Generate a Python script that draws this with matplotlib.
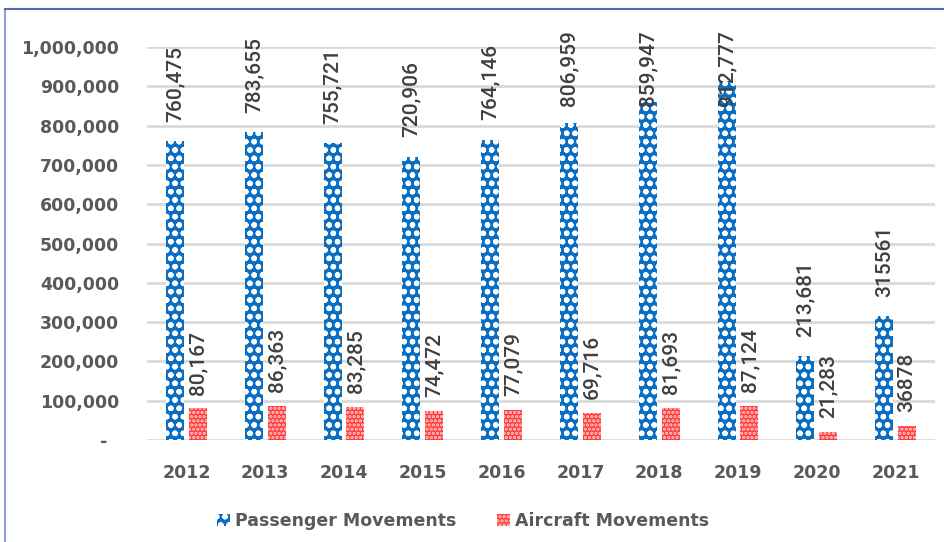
import matplotlib
matplotlib.use("Agg")
import matplotlib.pyplot as plt
from matplotlib.ticker import FuncFormatter
from matplotlib.lines import Line2D
import numpy as np

years = ["2012", "2013", "2014", "2015", "2016", "2017", "2018", "2019", "2020", "2021"]
passenger = [760475, 783655, 755721, 720906, 764146, 806959, 859947, 912777, 213681, 315561]
aircraft = [80167, 86363, 83285, 74472, 77079, 69716, 81693, 87124, 21283, 36878]
passenger_labels = ["760,475", "783,655", "755,721", "720,906", "764,146", "806,959",
                    "859,947", "912,777", "213,681", "315561"]
aircraft_labels = ["80,167", "86,363", "83,285", "74,472", "77,079", "69,716",
                   "81,693", "87,124", "21,283", "36878"]
series_names = ["Passenger Movements", "Aircraft Movements"]

plt.rcParams['hatch.linewidth'] = 1.6

fig = plt.figure(figsize=(9.45, 5.42), dpi=100)
ax = fig.add_axes([147/945, 1-440/542, (935-147)/945, (440-47)/542])

x = np.arange(len(years))
w = 0.23
off = 0.145
b1 = ax.bar(x - off, passenger, w, facecolor='#0A6FC2', edgecolor='white',
            hatch='oo', linewidth=0, zorder=3, label=series_names[0])
b2 = ax.bar(x + off, aircraft, w, facecolor='#FF3B3B', edgecolor='#FFD0D0',
            hatch='....', linewidth=0, zorder=3, label=series_names[1])

ax.set_xlim(-0.5, len(years) - 0.5)
ax.set_ylim(0, 1000000)
ax.set_yticks(np.arange(0, 1000001, 100000))
ax.yaxis.set_major_formatter(FuncFormatter(lambda v, p: "-  " if v == 0 else f"{int(v):,}"))
ax.set_xticks(x)
ax.set_xticklabels(years)
ax.grid(axis='y', color='#D9D9D9', linewidth=2, zorder=0)
ax.set_axisbelow(True)
for s in ax.spines.values():
    s.set_visible(False)
ax.tick_params(axis='both', length=0, colors='#595959', labelsize=12.5)
ax.tick_params(axis='y', pad=20)
ax.tick_params(axis='x', pad=17)
for lab in ax.get_xticklabels() + ax.get_yticklabels():
    lab.set_fontweight('bold')
    lab.set_fontfamily('DejaVu Sans')

texts = []
for xi, v, t in zip(x - off, passenger, passenger_labels):
    texts.append(ax.annotate(t, (xi, v), xytext=(0, 14), textcoords='offset points',
                             rotation=90, ha='center', va='bottom', fontsize=15,
                             family='Roboto', fontweight='medium', color='#404040',
                             annotation_clip=False))
for xi, v, t in zip(x + off, aircraft, aircraft_labels):
    texts.append(ax.annotate(t, (xi, v), xytext=(0, 10), textcoords='offset points',
                             rotation=90, ha='center', va='bottom', fontsize=15,
                             family='Roboto', fontweight='medium', color='#404040',
                             annotation_clip=False))

fig.canvas.draw()
r = fig.canvas.get_renderer()
limit = 542 - 30
for t in texts:
    bb = t.get_window_extent(r)
    if bb.y1 > limit:
        dx, dy = t.xyann
        t.xyann = (dx, dy - (bb.y1 - limit) * 72 / fig.dpi)

leg = fig.legend([b1[0], b2[0]], series_names, loc='center', bbox_to_anchor=(463/945, 1-521/542),
                 ncol=2, frameon=False, handlelength=0.75, handleheight=0.75,
                 handletextpad=0.3, columnspacing=2.3,
                 prop={'family': 'DejaVu Sans', 'weight': 'bold', 'size': 12.5})
for t in leg.get_texts():
    t.set_color('#595959')

fig.add_artist(Line2D([5/945, 5/945], [0, 1-8.5/542], transform=fig.transFigure,
                      color='#8E9DD3', linewidth=1.5))
fig.add_artist(Line2D([5/945, 1], [1-8.5/542, 1-8.5/542], transform=fig.transFigure,
                      color='#5568B5', linewidth=1.5))

fig.savefig("out.png", dpi=100)
